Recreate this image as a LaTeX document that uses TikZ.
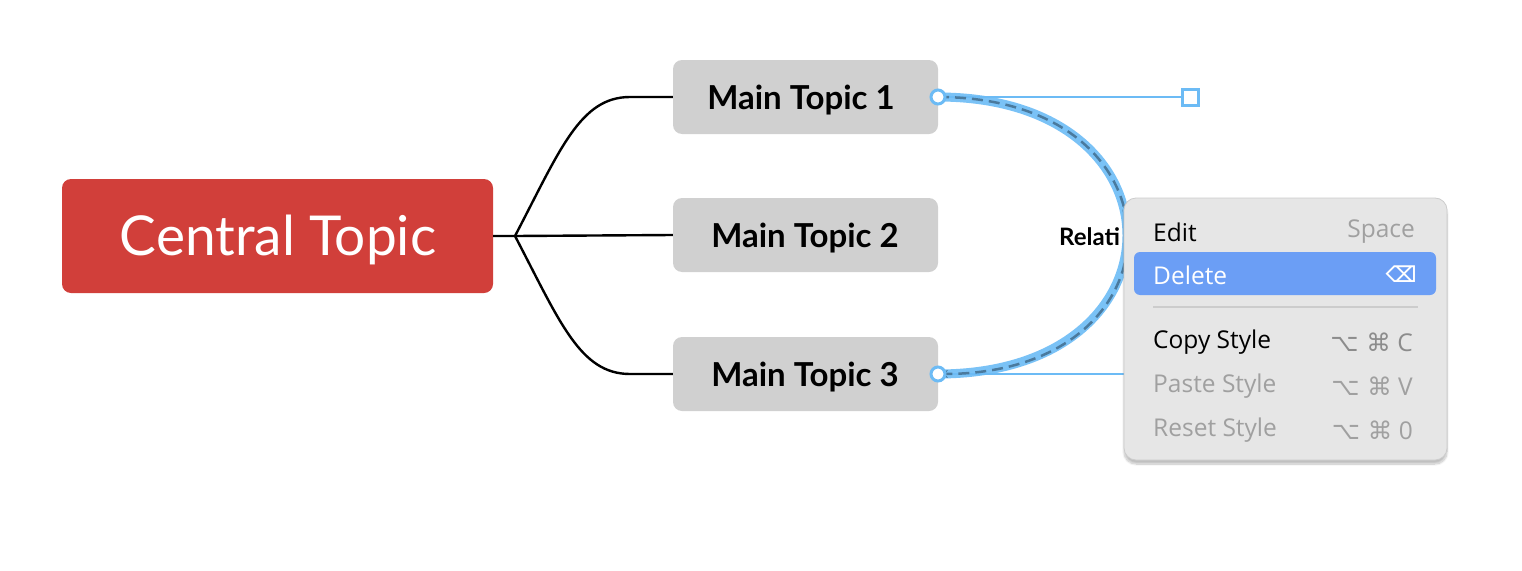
\documentclass[tikz,border=0pt]{standalone}
\usepackage{fontspec}
\setmainfont{Lato}
\newfontfamily\menufont{Open Sans}
\newfontfamily\symfont{DejaVu Sans}
\usetikzlibrary{shadows.blur,arrows.meta}
\definecolor{cred}{HTML}{D13F3A}
\definecolor{tgray}{HTML}{D0D0D0}
\definecolor{selblue}{HTML}{6CBBF5}
\definecolor{hlblue}{HTML}{6B9EF5}
\definecolor{menubg}{HTML}{E6E6E6}
\definecolor{dimtxt}{HTML}{A0A0A0}
\definecolor{dashc}{HTML}{4A7A9E}
\tikzset{
 topic/.style={fill=tgray,rounded corners=9pt,minimum width=265pt,minimum height=74pt,inner sep=0pt,font=\fontsize{33}{36}\selectfont\bfseries},
 ttext/.style={inner sep=0pt,font=\fontsize{33}{36}\selectfont\bfseries},
 branch/.style={line width=2.4pt},
 mitem/.style={anchor=west,inner sep=0pt,font=\menufont\fontsize{24.5}{26}\selectfont},
 mkey/.style={anchor=east,inner sep=0pt,font=\menufont\fontsize{24.5}{26}\selectfont,text=dimtxt},
}
\begin{document}
\begin{tikzpicture}[x=1pt,y=-1pt]
\useasboundingbox (0,0) rectangle (1522,570);
\node[fill=cred,rounded corners=9pt,minimum width=431pt,minimum height=114pt] (c) at (277.5,236) {};
\node[text=white,font=\fontsize{55}{60}\selectfont,inner sep=0pt] (ct) at (278,240) {Central Topic};
\node[topic] (t1) at (805.5,97) {};
\node[topic] (t2) at (805.5,235) {};
\node[topic] (t3) at (805.5,374) {};
\node[ttext] (l1) at (801,100) {Main Topic 1};
\node[ttext] (l2) at (805,238) {Main Topic 2};
\node[ttext] (l3) at (805,377) {Main Topic 3};
\coordinate (j) at (515,236);
\draw[branch] (c.east) -- (j) -- (t2.west);
\draw[branch] (j) .. controls (560,150) and (580,97) .. (630,97) -- (t1.west);
\draw[branch] (j) .. controls (560,322) and (580,374) .. (630,374) -- (t3.west);
% relationship
\node[font=\fontsize{24}{26}\selectfont\bfseries,anchor=west,inner sep=0pt] (rl) at (1059,237) {Relati};
\coordinate (h1) at (1190,97);
\coordinate (h2) at (1190,374);
\coordinate (e1) at (938,97);
\coordinate (e2) at (938,374);
\draw[selblue,line width=1.5pt] (e1) -- (h1);
\draw[selblue,line width=1.5pt] (e2) -- (h2);
\draw[selblue,line width=9pt,opacity=0.9] (e1) .. controls (h1) and (h2) .. (e2);
\draw[dashc,line width=2.5pt,dash pattern=on 11pt off 6pt,-{Stealth[length=10pt,width=8pt]}] (e1) .. controls (h1) and (h2) .. (e2);
\draw[selblue,line width=3pt,fill=white] (e1) circle (7);
\draw[selblue,line width=3pt,fill=white] (e2) circle (7);
\draw[selblue,line width=3pt,fill=white] (1182,89) rectangle (1198,105);
% menu
\node[fill=menubg,draw=black!20,line width=0.8pt,rounded corners=12pt,minimum width=323pt,minimum height=262pt,blur shadow={shadow blur steps=10,shadow xshift=0pt,shadow yshift=-4pt,shadow opacity=25}] (m) at (1285.5,329) {};
\node[fill=hlblue,rounded corners=6pt,minimum width=302pt,minimum height=43pt,inner sep=0pt] (hl) at (1285,273.5) {};
\draw[black!20,line width=1.5pt] (1153,307) -- (1418,307);
\node[mitem] (i1) at (1153,232) {Edit};
\node[mkey] (k1) at (1415,232) {Space};
\node[mitem,text=white] (i2) at (1153,275) {Delete};
\node[mkey,text=white,font=\symfont\fontsize{22}{26}\selectfont\bfseries] (k2) at (1417,274) {⌫};
\node[mitem] (i3) at (1153,342) {Copy Style};
\node[mkey,text=black!45] (k3) at (1413,342) {{\symfont ⌥ ⌘} C};
\node[mitem,text=dimtxt] (i4) at (1153,386) {Paste Style};
\node[mkey] (k4) at (1413,386) {{\symfont ⌥ ⌘} V};
\node[mitem,text=dimtxt] (i5) at (1153,430) {Reset Style};
\node[mkey] (k5) at (1413,430) {{\symfont ⌥ ⌘} 0};
\end{tikzpicture}
\end{document}
